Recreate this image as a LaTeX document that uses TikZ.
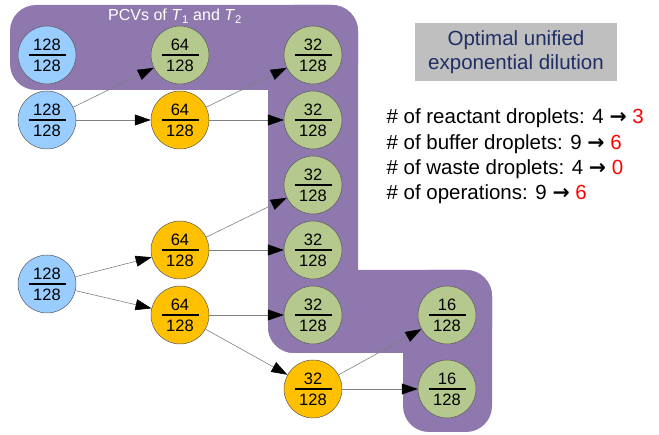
\documentclass[tikz,border=0pt]{standalone}
\usepackage{fontspec}
\setmainfont{Liberation Sans}
\newfontfamily\arrowfont{DejaVu Sans}
\usetikzlibrary{arrows.meta}

\definecolor{pcvpurple}{HTML}{8E78AE}
\definecolor{colin}{HTML}{99CCFF}
\definecolor{colmid}{HTML}{FFC000}
\definecolor{coltgt}{HTML}{B5C98E}
\definecolor{navytext}{HTML}{1F2F66}
\definecolor{boxgray}{HTML}{BFBFBF}

% concentration written as a stacked fraction with a wide bar
\newcommand{\conc}[2]{\vbox{\hbox to 37pt{\hss#1\hss}\kern4pt\hrule height 1.4pt\kern4pt\hbox to 37pt{\hss#2\hss}}}
% arrow sign used in the statistics
\newcommand{\becomes}{{\arrowfont\bfseries →}}

\tikzset{
  drop/.style={circle, draw=black!65, line width=0.5pt, minimum size=58pt,
    inner sep=0pt, font=\fontsize{16.5}{18}\selectfont},
  dropin/.style={drop, fill=colin},
  dropmid/.style={drop, fill=colmid},
  droptgt/.style={drop, fill=coltgt},
  flow/.style={draw=black!50, line width=0.6pt,
    -{Triangle[length=16pt,width=11pt,color=black]}},
  statline/.style={anchor=base west, font=\fontsize{20.5}{25}\selectfont},
}

\begin{document}
\begin{tikzpicture}[x=1pt,y=-1pt]
\useasboundingbox (0,0) rectangle (659,435);

% region holding the PCVs of T1 and T2
\begin{scope}[pcvpurple, rounded corners=26pt]
  \fill (10,5) rectangle (358,90);
  \fill (268,5) rectangle (358,353);
  \fill (268,270) rectangle (492,353);
  \fill (403,270) rectangle (492,432);
\end{scope}
\node[font=\fontsize{16}{18}\selectfont, text=white, anchor=base] (pcvtitle) at (175,21)
  {PCVs of \textit{T}\textsubscript{1} and \textit{T}\textsubscript{2}};

% droplets
\node[dropin] (a1) at (47,55) {\conc{128}{128}};
\node[dropin] (a2) at (47,120) {\conc{128}{128}};
\node[dropin] (a3) at (47,284) {\conc{128}{128}};

\node[droptgt] (b1) at (180,55) {\conc{64}{128}};
\node[dropmid] (b2) at (180,120) {\conc{64}{128}};
\node[dropmid] (b3) at (180,250) {\conc{64}{128}};
\node[dropmid] (b4) at (180,315) {\conc{64}{128}};

\node[droptgt] (c1) at (313,55) {\conc{32}{128}};
\node[droptgt] (c2) at (313,120) {\conc{32}{128}};
\node[droptgt] (c3) at (313,185) {\conc{32}{128}};
\node[droptgt] (c4) at (313,250) {\conc{32}{128}};
\node[droptgt] (c5) at (313,315) {\conc{32}{128}};
\node[dropmid] (c6) at (313,389) {\conc{32}{128}};

\node[droptgt] (d1) at (447,315) {\conc{16}{128}};
\node[droptgt] (d2) at (447,389) {\conc{16}{128}};

% dilution steps
\draw[flow] (a2) -- (b1);
\draw[flow] (a2) -- (b2);
\draw[flow] (b2) -- (c1);
\draw[flow] (b2) -- (c2);
\draw[flow] (a3) -- (b3);
\draw[flow] (a3) -- (b4);
\draw[flow] (b3) -- (c3);
\draw[flow] (b3) -- (c4);
\draw[flow] (b4) -- (c5);
\draw[flow] (b4) -- (c6);
\draw[flow] (c6) -- (d1);
\draw[flow] (c6) -- (d2);

% heading box
\node[fill=boxgray, minimum width=202pt, minimum height=58pt, align=center,
  text=navytext, font=\fontsize{20.5}{24.5}\selectfont] (heading) at (516,52)
  {Optimal unified\\exponential dilution};

% statistics
\node[statline] (s1) at (383,124) {\# of reactant droplets: 4 \becomes{} \textcolor{red}{3}};
\node[statline] (s2) at (383,150) {\# of buffer droplets: 9 \becomes{} \textcolor{red}{6}};
\node[statline] (s3) at (383,175) {\# of waste droplets: 4 \becomes{} \textcolor{red}{0}};
\node[statline] (s4) at (383,200) {\# of operations: 9 \becomes{} \textcolor{red}{6}};
\end{tikzpicture}
\end{document}
